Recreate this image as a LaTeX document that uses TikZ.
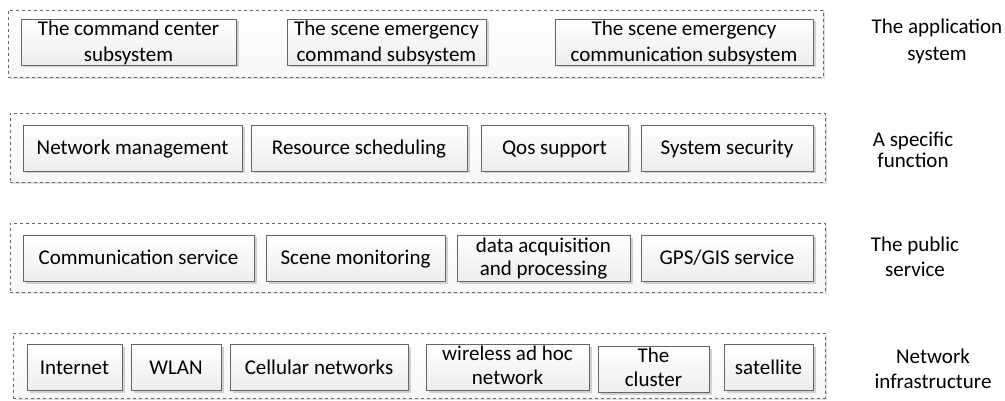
\documentclass[tikz,border=0pt]{standalone}
\usepackage{fontspec}
\setmainfont{Carlito}
\usetikzlibrary{shadows}

\begin{document}
\begin{tikzpicture}
  [
    x=1pt, y=-1pt,
    Layer/.style={rectangle, draw=black!60, dashed, top color=white, bottom color=black!3, inner sep=0pt, drop shadow={shadow xshift=2pt, shadow yshift=-2pt, fill=black!12, opacity=1}},
    Box/.style={rectangle, draw=black!60, top color=white, bottom color=black!7, inner xsep=1pt, inner ysep=0pt, text height=30pt, text depth=16pt, align=center, font=\fontsize{21}{24}\selectfont, drop shadow={shadow xshift=2.5pt, shadow yshift=-2.5pt, fill=black!18, opacity=1}},
    Twoline/.style={Box, text height=40.7pt, text depth=5.3pt},
    Tag/.style={align=center, anchor=base, inner sep=0pt}
  ]
  \useasboundingbox (0,0) rectangle (1005,401);

  % Layers
  \node[Layer, minimum width=815pt, minimum height=67pt] (app) at (415.5, 43.5) {};
  \node[Layer, minimum width=815pt, minimum height=69pt] (func) at (417.5, 147.5) {};
  \node[Layer, minimum width=815pt, minimum height=69pt] (pub) at (417.5, 257.5) {};
  \node[Layer, minimum width=812pt, minimum height=65pt] (net) at (419, 365.5) {};

  % The application system
  \node[Twoline, text height=43pt, text depth=3pt, font=\fontsize{21}{26}\selectfont, minimum width=215pt] (cmd) at (128.5, 42) {The command center\\subsystem};
  \node[Twoline, text height=43pt, text depth=3pt, font=\fontsize{21}{26}\selectfont, minimum width=199pt] (scmd) at (386.5, 42) {The scene emergency\\command subsystem};
  \node[Twoline, text height=43pt, text depth=3pt, font=\fontsize{21}{26}\selectfont, minimum width=258pt] (scom) at (684, 42) {The scene emergency\\communication subsystem};

  % A specific function
  \node[Box, minimum width=219pt] (mgmt) at (132.5, 148) {Network management};
  \node[Box, minimum width=216pt] (sched) at (359, 148) {Resource scheduling};
  \node[Box, minimum width=147pt] (qos) at (554.5, 148) {Qos support};
  \node[Box, minimum width=172pt] (sec) at (727, 148) {System security};

  % The public service
  \node[Box, minimum width=231pt] (comm) at (138.5, 258) {Communication service};
  \node[Box, minimum width=179pt] (mon) at (355.5, 258) {Scene monitoring};
  \node[Twoline, text height=39.7pt, text depth=6.3pt, font=\fontsize{21}{23}\selectfont, minimum width=173pt] (acq) at (543.5, 258.5) {data acquisition\\and processing};
  \node[Box, minimum width=172pt] (gps) at (727, 258) {GPS/GIS service};

  % Network infrastructure
  \node[Box, minimum width=95pt] (inet) at (74.5, 367) {Internet};
  \node[Box, minimum width=90pt] (wlan) at (176, 367) {WLAN};
  \node[Box, minimum width=178pt] (cell) at (319, 367) {Cellular networks};
  \node[Twoline, minimum width=163pt] (adhoc) at (507.5, 367) {wireless ad hoc\\network};
  \node[Twoline, minimum width=111pt] (clus) at (653.5, 369) {The\\cluster};
  \node[Box, minimum width=89pt] (sat) at (768.5, 367) {satellite};

  % Layer names
  \node[Tag, font=\fontsize{21}{27.7}\selectfont] (tapp) at (937, 61) {The application\\system};
  \node[Tag, font=\fontsize{21}{21}\selectfont] (tfunc) at (913, 167.7) {A specific\\function};
  \node[Tag, font=\fontsize{21}{25}\selectfont] (tpub) at (915, 276.7) {The public\\service};
  \node[Tag, font=\fontsize{21}{25}\selectfont] (tnet) at (933, 388.3) {Network\\infrastructure};

\end{tikzpicture}
\end{document}
